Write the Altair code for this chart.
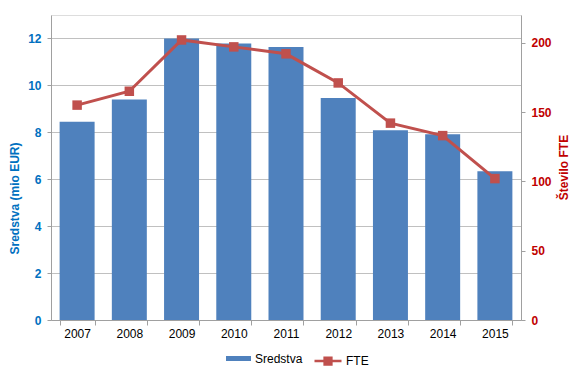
import altair as alt
import pandas as pd

years = ["2007", "2008", "2009", "2010", "2011", "2012", "2013", "2014", "2015"]
sredstva = [8.45, 9.40, 12.0, 11.79, 11.64, 9.46, 8.09, 7.92, 6.34]
fte = [155, 165, 202, 197, 192, 171, 142, 133, 102]
left_ticks = [0, 2, 4, 6, 8, 10, 12]
right_ticks = [0, 50, 100, 150, 200]

BLUE = "#4F81BD"
RED = "#C0504D"
LBLUE = "#0070C0"
LRED = "#C00000"
FONT = "Liberation Sans"

df = pd.DataFrame({
    "year": years,
    "Sredstva": sredstva,
    "FTE": fte,
    "s_label": ["Sredstva"] * len(years),
    "f_label": ["FTE"] * len(years),
})

x_enc = alt.X(
    "year:N",
    title=None,
    scale=alt.Scale(paddingInner=0.33, paddingOuter=0.165),
    axis=alt.Axis(
        labelAngle=0, tickBand="extent", tickSize=5, tickColor="#A0A0A0",
        domainColor="#A0A0A0", labelColor="#000000", labelFontSize=12,
        labelFont=FONT, labelPadding=3, grid=False,
    ),
)

bars = alt.Chart(df).mark_bar(color=BLUE).encode(
    x=x_enc,
    y=alt.Y(
        "Sredstva:Q",
        scale=alt.Scale(domain=[0, 13], nice=False),
        axis=alt.Axis(
            values=left_ticks, title="Sredstva (mio EUR)", orient="left",
            labelColor=LBLUE, labelFontWeight="bold", labelFontSize=12, labelFont=FONT,
            titleColor=LBLUE, titleFontWeight="bold", titleFontSize=12, titleFont=FONT,
            titleAngle=270, titleX=-37, titleY=183, titleAlign="center", titleBaseline="middle",
            grid=True, gridColor="#C0C0C0", domainColor="#A0A0A0",
            tickColor="#A0A0A0", tickSize=4, labelPadding=6,
        ),
    ),
    color=alt.Color(
        "s_label:N",
        scale=alt.Scale(domain=["Sredstva"], range=[BLUE]),
        legend=alt.Legend(
            title=None, orient="none", legendX=175, legendY=331, padding=0,
            symbolType="M-1,-0.2H1V0.2H-1Z", symbolSize=625, symbolStrokeWidth=0,
            labelFontSize=12, labelFont=FONT, labelColor="#000000", labelOffset=4,
        ),
    ),
)

line = alt.Chart(df).mark_line(
    strokeWidth=3,
    point=alt.OverlayMarkDef(shape="square", size=90, filled=True),
).encode(
    x=x_enc,
    y=alt.Y(
        "FTE:Q",
        scale=alt.Scale(domain=[0, 220], nice=False),
        axis=alt.Axis(
            values=right_ticks, title="Število FTE", orient="right",
            labelColor=LRED, labelFontWeight="bold", labelFontSize=12, labelFont=FONT,
            titleColor=LRED, titleFontWeight="bold", titleFontSize=12, titleFont=FONT,
            titleAngle=270, titleX=42, titleY=152, titleAlign="center", titleBaseline="middle",
            grid=False, domainColor="#A0A0A0", tickColor="#A0A0A0", tickSize=4,
            labelPadding=6,
        ),
    ),
    color=alt.Color(
        "f_label:N",
        scale=alt.Scale(domain=["FTE"], range=[RED]),
        legend=alt.Legend(
            title=None, orient="none", legendX=262, legendY=331, padding=0,
            symbolType="M-1,0H1M-0.25,-0.25H0.25V0.25H-0.25Z", symbolSize=729,
            symbolStrokeWidth=2.5, symbolFillColor=RED, symbolStrokeColor=RED,
            labelFontSize=12, labelFont=FONT, labelColor="#000000", labelOffset=3,
        ),
    ),
)

chart = alt.layer(bars, line).resolve_scale(
    y="independent", color="independent"
).resolve_legend(color="independent").properties(
    width=470, height=305,
    autosize=alt.AutoSizeParams(type="none"),
    padding={"left": 43, "top": 7, "right": 57, "bottom": 51},
).configure_view(stroke="#A0A0A0", strokeWidth=1).configure(font=FONT)

chart.save("out.html", embed_options={"renderer": "svg", "actions": False})
